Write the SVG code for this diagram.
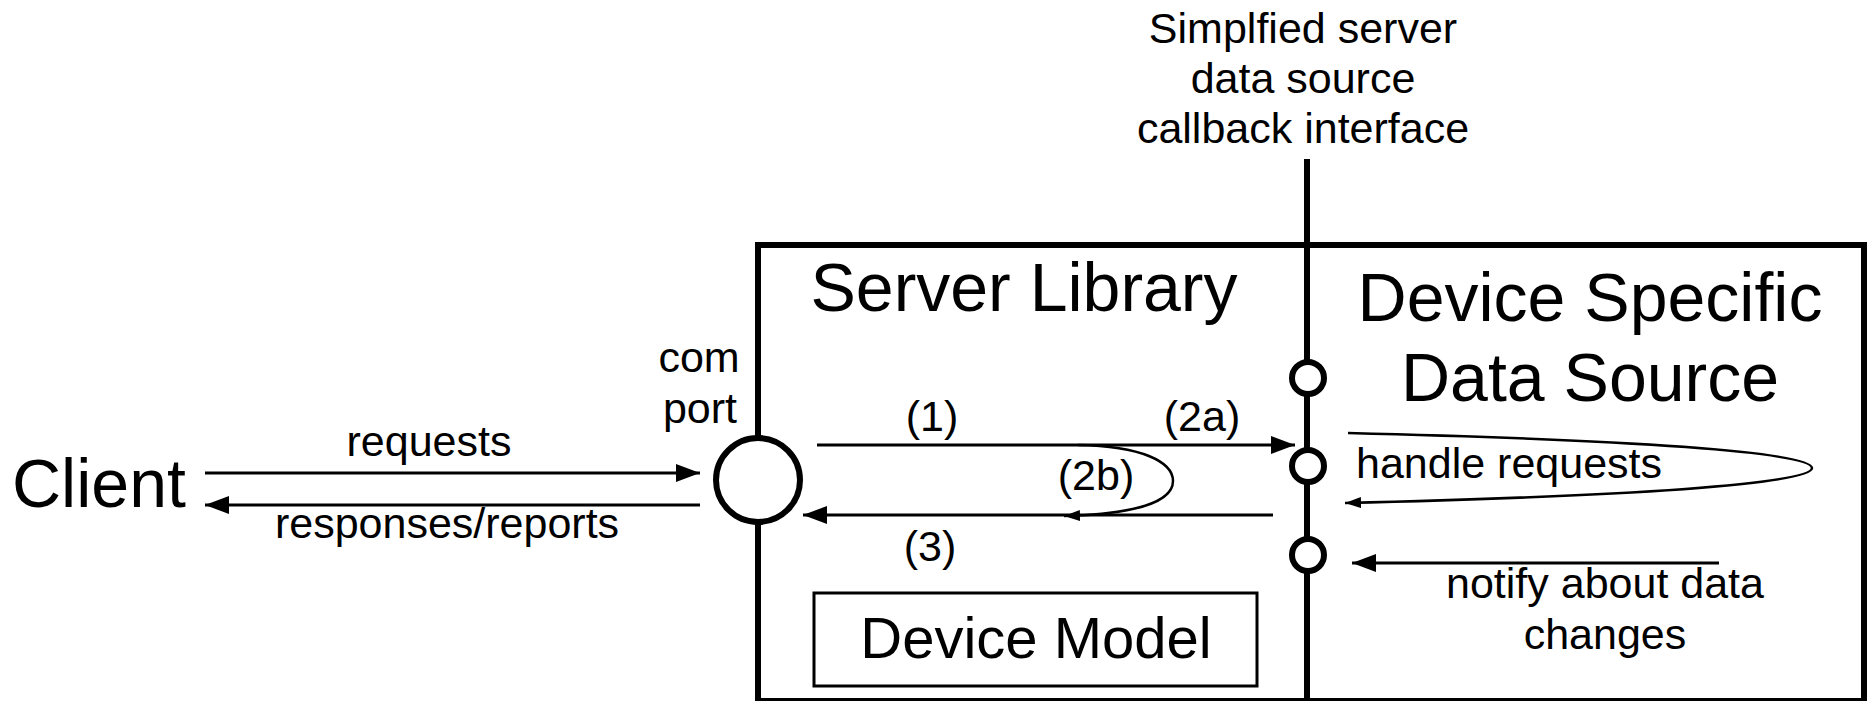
<svg xmlns="http://www.w3.org/2000/svg" width="1868" height="701" viewBox="0 0 1868 701">
  <style>
    text { font-family: "Liberation Sans", Arial, sans-serif; fill: #000; }
    .big { font-size: 68px; }
    .model { font-size: 58px; }
    .small { font-size: 43px; }
    .mid { text-anchor: middle; }
    .frame { fill: none; stroke: #000; stroke-width: 6; }
    .iface { fill: none; stroke: #000; stroke-width: 6; }
    .port { fill: #fff; stroke: #000; stroke-width: 6; }
    .arrow { fill: none; stroke: #000; stroke-width: 3; marker-end: url(#head); }
    .loop { fill: none; stroke: #000; stroke-width: 2.5; marker-end: url(#headSmall); }
  </style>
  <defs>
    <marker id="head" markerUnits="userSpaceOnUse" markerWidth="24" markerHeight="18" refX="24" refY="9" orient="auto">
      <path d="M0,0 L24,9 L0,18 z" fill="#000"/>
    </marker>
    <marker id="headSmall" markerUnits="userSpaceOnUse" markerWidth="16" markerHeight="11" refX="16" refY="5.5" orient="auto">
      <path d="M0,0 L16,5.5 L0,11 z" fill="#000"/>
    </marker>
  </defs>

  <rect width="1868" height="701" fill="#fff"/>

  <!-- outer frame holding both components -->
  <g id="frame">
    <rect class="frame" x="758" y="245" width="1106" height="456"/>
  </g>

  <!-- callback interface line with its label -->
  <g id="interface">
    <line class="iface" x1="1307" y1="159" x2="1307" y2="701"/>
    <text class="small mid" x="1303" y="43">Simplfied server</text>
    <text class="small mid" x="1303" y="93">data source</text>
    <text class="small mid" x="1303" y="143">callback interface</text>
  </g>

  <g id="client">
    <text class="big" x="12" y="507">Client</text>
  </g>

  <g id="server-library">
    <text class="big mid" x="1024" y="311">Server Library</text>
  </g>

  <g id="data-source">
    <text class="big mid" x="1590" y="321">Device Specific</text>
    <text class="big mid" x="1590" y="401">Data Source</text>
  </g>

  <g id="device-model">
    <rect x="814" y="593" width="443" height="93" fill="none" stroke="#000" stroke-width="3"/>
    <text class="model mid" x="1036" y="658">Device Model</text>
  </g>

  <g id="connectors">
    <!-- client <-> com port -->
    <line class="arrow" x1="205" y1="473" x2="700" y2="473"/>
    <line class="arrow" x1="700" y1="505" x2="205" y2="505"/>
    <!-- (1)/(2a) request to data source, (3) response back -->
    <line class="arrow" x1="817" y1="445" x2="1295" y2="445"/>
    <line class="arrow" x1="1273" y1="515" x2="803" y2="515"/>
    <!-- (2b) handled inside the library -->
    <path class="loop" d="M1078,445 C1142,446 1173,462 1173,481 C1173,502 1135,514 1064,516"/>
    <!-- handle requests loop -->
    <path class="loop" d="M1348,433 C1630,440 1812,452 1812,468 C1812,484 1630,496 1345,503"/>
    <!-- notify about data changes -->
    <line class="arrow" x1="1719" y1="563" x2="1352" y2="563"/>
  </g>

  <!-- com port -->
  <g id="com-port">
    <circle class="port" cx="758" cy="480" r="42"/>
    <text class="small mid" x="699" y="372">com</text>
    <text class="small mid" x="700" y="423">port</text>
  </g>

  <!-- callback sockets on the interface -->
  <g id="sockets">
    <circle class="port" cx="1308" cy="378" r="16"/>
    <circle class="port" cx="1308" cy="466" r="16"/>
    <circle class="port" cx="1308" cy="555" r="16"/>
  </g>

  <g id="labels">
    <text class="small mid" x="429" y="456">requests</text>
    <text class="small mid" x="447" y="538">responses/reports</text>
    <text class="small mid" x="932" y="431">(1)</text>
    <text class="small mid" x="1202" y="431">(2a)</text>
    <text class="small mid" x="1096" y="490">(2b)</text>
    <text class="small mid" x="930" y="561">(3)</text>
    <text class="small" x="1356" y="478">handle requests</text>
    <text class="small mid" x="1605" y="598">notify about data</text>
    <text class="small mid" x="1605" y="649">changes</text>
  </g>
</svg>
